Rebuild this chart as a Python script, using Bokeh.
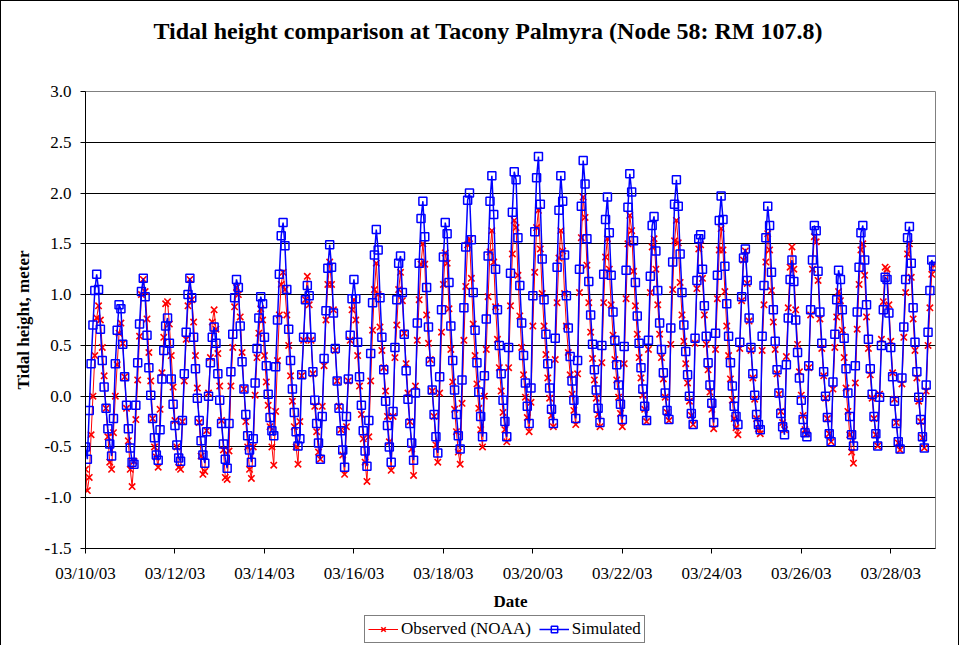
from bokeh.plotting import figure
from bokeh.layouts import column
from bokeh.models import (Range1d, FixedTicker, NumeralTickFormatter, Legend, LegendItem, Title)
from bokeh.embed import file_html
from bokeh.resources import INLINE

# Hourly tidal heights (m), starting 03/10/03 00:00
observed = [
    -0.72, -0.93, -0.80, -0.38, 0.00, 0.40, 0.77, 0.89, 0.75, 0.48, 0.20, -0.12, -0.40, -0.65, -0.72, -0.36, 0.00, 0.31, 0.62, 0.72, 0.52, 0.19, -0.12, -0.44,
    -0.72, -0.89, -0.64, -0.23, 0.16, 0.59, 1.00, 1.15, 1.03, 0.76, 0.43, 0.15, -0.22, -0.50, -0.60, -0.70, -0.13, 0.23, 0.58, 0.91, 0.93, 0.71, 0.40, 0.09,
    -0.24, -0.50, -0.70, -0.72, -0.25, 0.15, 0.56, 0.89, 1.15, 0.95, 0.73, 0.40, 0.08, -0.26, -0.59, -0.77, -0.74, -0.34, 0.03, 0.38, 0.73, 0.85, 0.66, 0.42,
    0.10, -0.24, -0.53, -0.80, -0.82, -0.54, 0.10, 0.48, 0.88, 1.07, 1.00, 0.78, 0.43, 0.07, -0.25, -0.50, -0.72, -0.81, -0.50, 0.01, 0.38, 0.62, 0.86, 0.75,
    0.40, 0.14, -0.09, -0.30, -0.50, -0.68, -0.15, 0.35, 0.80, 1.10, 1.22, 1.05, 0.80, 0.50, 0.20, -0.05, -0.30, -0.50, -0.67, -0.25, 0.20, 0.55, 0.95, 1.18,
    0.90, 0.55, 0.22, -0.10, -0.35, -0.55, -0.62, -0.10, 0.30, 0.75, 1.10, 1.32, 1.10, 0.85, 0.45, 0.15, -0.10, -0.33, -0.58, -0.77, -0.30, 0.15, 0.55, 0.85,
    0.95, 0.75, 0.40, 0.10, -0.18, -0.42, -0.65, -0.84, -0.40, 0.15, 0.65, 1.05, 1.31, 1.00, 0.68, 0.45, 0.28, 0.05, -0.20, -0.45, -0.73, -0.20, 0.38, 0.70,
    1.05, 1.22, 0.94, 0.62, 0.32, 0.03, -0.25, -0.52, -0.78, 0.10, 0.55, 0.95, 1.30, 1.50, 1.30, 0.80, 0.52, 0.36, 0.05, -0.20, -0.48, -0.65, 0.03, 0.63,
    1.10, 1.41, 1.31, 0.86, 0.46, 0.14, -0.13, -0.35, -0.55, -0.67, -0.07, 0.55, 1.08, 1.49, 1.55, 1.16, 0.71, 0.40, 0.12, -0.12, -0.33, -0.50, 0.00, 0.46,
    0.98, 1.42, 1.63, 1.32, 0.88, 0.56, 0.28, 0.05, -0.16, -0.33, -0.45, 0.28, 0.89, 1.40, 1.73, 1.66, 1.19, 0.79, 0.48, 0.21, -0.01, -0.21, -0.35, -0.06,
    0.69, 1.22, 1.66, 1.83, 1.45, 1.01, 0.69, 0.41, 0.18, -0.02, -0.19, -0.30, 0.36, 0.92, 1.36, 1.63, 1.43, 1.01, 0.69, 0.43, 0.21, 0.02, -0.14, -0.28,
    0.22, 1.02, 1.56, 1.96, 1.76, 1.29, 0.92, 0.63, 0.37, 0.16, -0.02, -0.18, -0.30, 0.33, 0.92, 1.37, 1.55, 1.25, 0.90, 0.60, 0.36, 0.16, -0.01, -0.17,
    -0.30, 0.32, 0.96, 1.50, 1.78, 1.63, 1.23, 0.89, 0.61, 0.38, 0.18, 0.01, -0.13, -0.25, 0.46, 1.02, 1.47, 1.55, 1.25, 0.90, 0.61, 0.38, 0.17, -0.01,
    -0.16, -0.24, 0.51, 1.05, 1.53, 1.73, 1.51, 1.12, 0.80, 0.54, 0.32, 0.13, -0.05, -0.19, -0.28, 0.52, 1.06, 1.45, 1.49, 1.16, 0.80, 0.51, 0.26, 0.04,
    -0.13, -0.32, 0.46, 0.96, 1.44, 1.65, 1.44, 1.03, 0.69, 0.40, 0.17, -0.04, -0.22, -0.31, -0.38, 0.47, 0.94, 1.34, 1.43, 1.11, 0.74, 0.45, 0.18, -0.03,
    -0.22, -0.32, -0.37, 0.45, 0.90, 1.32, 1.60, 1.44, 1.04, 0.73, 0.46, 0.22, 0.02, -0.15, -0.26, -0.33, 0.39, 0.87, 1.27, 1.47, 1.25, 0.85, 0.51, 0.24,
    0.01, -0.19, -0.33, -0.37, 0.28, 0.80, 1.25, 1.57, 1.52, 1.14, 0.76, 0.47, 0.20, -0.02, -0.22, -0.37, -0.45, 0.07, 0.48, 0.78, 1.03, 0.94, 0.65, 0.38,
    0.08, -0.15, -0.38, -0.55, -0.66, 0.13, 0.66, 1.10, 1.44, 1.50, 1.19, 0.78, 0.47, 0.21, -0.02, -0.22, -0.38, -0.49, 0.02, 0.56, 0.93, 1.27, 1.25, 0.90,
    0.54, 0.23, -0.03, -0.26, -0.46, -0.53, 0.12, 0.58, 1.02, 1.40, 1.50, 1.17, 0.76, 0.45, 0.18, -0.05, -0.25, -0.41, -0.51, 0.05, 0.50, 0.87, 1.20, 1.29,
]

simulated = [
    -0.50, -0.62, -0.14, 0.32, 0.70, 1.04, 1.20, 1.05, 0.66, 0.35, 0.09, -0.12, -0.32, -0.47, -0.59, -0.22, 0.32, 0.65, 0.90, 0.86, 0.51, 0.19, -0.09, -0.32,
    -0.51, -0.65, -0.67, -0.09, 0.33, 0.71, 1.03, 1.16, 0.98, 0.60, 0.28, 0.01, -0.22, -0.41, -0.58, -0.63, -0.33, 0.17, 0.45, 0.69, 0.77, 0.52, 0.17, -0.08,
    -0.29, -0.48, -0.61, -0.64, -0.24, 0.22, 0.63, 1.00, 1.16, 0.97, 0.58, 0.27, -0.02, -0.24, -0.44, -0.58, -0.66, -0.35, 0.00, 0.33, 0.58, 0.68, 0.52, 0.22,
    -0.04, -0.27, -0.47, -0.62, -0.71, -0.27, 0.24, 0.61, 0.97, 1.15, 1.07, 0.69, 0.34, 0.07, -0.18, -0.39, -0.53, -0.65, -0.42, 0.13, 0.47, 0.77, 0.98, 0.91,
    0.58, 0.30, 0.02, -0.21, -0.34, -0.39, 0.29, 0.75, 1.20, 1.58, 1.71, 1.48, 1.05, 0.66, 0.35, 0.07, -0.16, -0.35, -0.49, -0.42, 0.21, 0.58, 0.95, 1.09,
    0.99, 0.58, 0.24, -0.04, -0.27, -0.46, -0.62, -0.20, 0.37, 0.84, 1.26, 1.49, 1.27, 0.82, 0.47, 0.15, -0.12, -0.34, -0.53, -0.70, -0.20, 0.17, 0.60, 0.96,
    1.15, 0.96, 0.53, 0.19, -0.09, -0.34, -0.54, -0.69, -0.24, 0.42, 0.92, 1.39, 1.64, 1.44, 0.97, 0.58, 0.26, -0.05, -0.29, -0.50, -0.65, -0.15, 0.48, 0.95,
    1.31, 1.38, 1.02, 0.61, 0.25, -0.03, -0.27, -0.46, -0.63, 0.03, 0.72, 1.31, 1.75, 1.92, 1.57, 1.07, 0.68, 0.34, 0.06, -0.18, -0.40, -0.56, 0.19, 0.85,
    1.37, 1.71, 1.60, 1.12, 0.69, 0.35, 0.06, -0.18, -0.39, -0.52, 0.16, 0.87, 1.47, 1.93, 2.00, 1.54, 1.02, 0.65, 0.33, 0.04, -0.20, -0.40, 0.20, 0.76,
    1.38, 1.92, 2.17, 1.79, 1.25, 0.85, 0.50, 0.22, -0.04, -0.25, -0.40, 0.48, 1.21, 1.81, 2.21, 2.13, 1.56, 1.09, 0.72, 0.40, 0.13, -0.10, -0.27, 0.08,
    0.99, 1.62, 2.15, 2.36, 1.89, 1.35, 0.95, 0.61, 0.32, 0.08, -0.13, -0.27, 0.57, 1.27, 1.83, 2.17, 1.92, 1.39, 0.99, 0.67, 0.39, 0.15, -0.04, -0.22,
    0.35, 1.25, 1.87, 2.32, 2.09, 1.55, 1.13, 0.80, 0.51, 0.26, 0.06, -0.12, -0.26, 0.50, 1.20, 1.74, 1.96, 1.61, 1.19, 0.83, 0.55, 0.31, 0.11, -0.08,
    -0.23, 0.49, 1.24, 1.86, 2.19, 2.01, 1.53, 1.12, 0.79, 0.52, 0.28, 0.07, -0.10, -0.24, 0.55, 1.18, 1.68, 1.77, 1.43, 1.04, 0.72, 0.46, 0.23, 0.03,
    -0.14, -0.23, 0.67, 1.32, 1.89, 2.13, 1.87, 1.40, 1.02, 0.70, 0.44, 0.21, 0.00, -0.17, -0.28, 0.57, 1.14, 1.55, 1.59, 1.25, 0.89, 0.59, 0.33, 0.11,
    -0.07, -0.26, 0.62, 1.19, 1.73, 1.97, 1.74, 1.28, 0.91, 0.59, 0.33, 0.10, -0.10, -0.20, -0.28, 0.53, 0.98, 1.36, 1.45, 1.14, 0.77, 0.48, 0.22, 0.01,
    -0.18, -0.28, -0.33, 0.59, 1.09, 1.56, 1.87, 1.68, 1.22, 0.85, 0.54, 0.26, 0.03, -0.17, -0.30, -0.38, 0.31, 0.77, 1.15, 1.34, 1.13, 0.75, 0.43, 0.18,
    -0.04, -0.23, -0.36, -0.40, 0.30, 0.85, 1.34, 1.68, 1.63, 1.23, 0.83, 0.52, 0.24, 0.00, -0.21, -0.37, -0.45, 0.14, 0.61, 0.95, 1.24, 1.15, 0.85, 0.57,
    0.27, 0.03, -0.20, -0.38, -0.49, 0.30, 0.83, 1.27, 1.61, 1.68, 1.34, 0.90, 0.56, 0.27, 0.02, -0.20, -0.37, -0.49, -0.01, 0.50, 0.85, 1.17, 1.15, 0.82,
    0.48, 0.19, -0.05, -0.27, -0.45, -0.52, 0.18, 0.68, 1.15, 1.56, 1.67, 1.31, 0.87, 0.53, 0.24, -0.01, -0.23, -0.40, -0.51, 0.11, 0.63, 1.04, 1.34, 1.28,
]

date_labels = ["03/10/03", "03/12/03", "03/14/03", "03/16/03", "03/18/03",
               "03/20/03", "03/22/03", "03/24/03", "03/26/03", "03/28/03"]
y_ticks = [-1.5, -1.0, -0.5, 0.0, 0.5, 1.0, 1.5, 2.0, 2.5, 3.0]

HOURS_PER_LABEL = 48
hours_obs = list(range(len(observed)))
hours_sim = list(range(len(simulated)))
x_ticks = [HOURS_PER_LABEL * i for i in range(len(date_labels))]

FONT = "Liberation Serif"
W = 959

p = figure(width=W, height=612, output_backend="svg", toolbar_location=None,
           x_range=Range1d(0, 456), y_range=Range1d(-1.5, 3.0),
           min_border_left=84, min_border_right=25, min_border_top=90,
           min_border_bottom=65)
p.styles = {"border-left": "1px solid black", "border-top": "1px solid black",
            "border-right": "1px solid black"}

# spacer (closest to the frame) then the real title above it
p.add_layout(Title(text=" ", text_font=FONT, text_font_size="20px", standoff=24), "above")
p.add_layout(Title(text="Tidal height comparison at Tacony Palmyra (Node 58: RM 107.8)",
                   text_font=FONT, text_font_size="24px", text_font_style="bold",
                   text_color="black", align="left", offset=68, standoff=0), "above")

p.outline_line_color = "#808080"
p.background_fill_color = "white"
p.border_fill_color = "white"

p.xgrid.grid_line_color = None
p.ygrid.grid_line_color = "black"
p.ygrid.grid_line_width = 1
p.ygrid.ticker = FixedTicker(ticks=y_ticks)

p.yaxis.ticker = FixedTicker(ticks=y_ticks)
p.yaxis.formatter = NumeralTickFormatter(format="0.0")
p.yaxis.axis_label = "Tidal height, meter"
p.xaxis.ticker = FixedTicker(ticks=x_ticks)
p.xaxis.major_label_overrides = {t: lab for t, lab in zip(x_ticks, date_labels)}
p.xaxis.axis_label = "Date"

for ax in (p.xaxis, p.yaxis):
    ax.axis_line_color = "black"
    ax.major_tick_line_color = "black"
    ax.major_tick_in = 0
    ax.major_tick_out = 5
    ax.minor_tick_line_color = None
    ax.major_label_text_font = FONT
    ax.major_label_text_font_size = "17px"
    ax.major_label_text_color = "black"
    ax.axis_label_text_font = FONT
    ax.axis_label_text_font_size = "17px"
    ax.axis_label_text_font_style = "bold"
    ax.axis_label_text_color = "black"
p.yaxis.major_label_standoff = 9
p.yaxis.axis_label_standoff = 9
p.xaxis.major_label_standoff = 10
p.xaxis.axis_label_standoff = 6


def draw_series(fig):
    r1 = fig.line(hours_obs, observed, line_color="red", line_width=1)
    r2 = fig.scatter(hours_obs, observed, marker="x", size=9, line_color="red", line_width=1.6)
    b1 = fig.line(hours_sim, simulated, line_color="blue", line_width=1.5)
    b2 = fig.scatter(hours_sim, simulated, marker="square", size=8, line_color="blue",
                     fill_color=None, line_width=1.5)
    return r1, r2, b1, b2


draw_series(p)

# legend strip below the chart (its own series lie outside its empty view)
leg = figure(width=W, height=33, output_backend="svg", toolbar_location=None,
             x_range=Range1d(0, 456), y_range=Range1d(10, 11),
             x_axis_type=None, y_axis_type=None, min_border=0)
leg.styles = {"border-left": "1px solid black", "border-right": "1px solid black"}
leg.outline_line_color = None
leg.grid.visible = False
leg.background_fill_color = "white"
lr1, lr2, lb1, lb2 = draw_series(leg)
legend = Legend(items=[LegendItem(label="Observed (NOAA)", renderers=[lr1, lr2]),
                       LegendItem(label="Simulated", renderers=[lb1, lb2])],
                orientation="horizontal", location=(279, 2),
                border_line_color="black", border_line_width=1,
                label_text_font=FONT, label_text_font_size="17px",
                label_text_color="black",
                glyph_width=30, glyph_height=16, padding=3, spacing=8,
                margin=0, label_standoff=3)
leg.add_layout(legend, "center")

layout = column(p, leg, spacing=0)
open("out.html", "w").write(file_html(layout, INLINE))
